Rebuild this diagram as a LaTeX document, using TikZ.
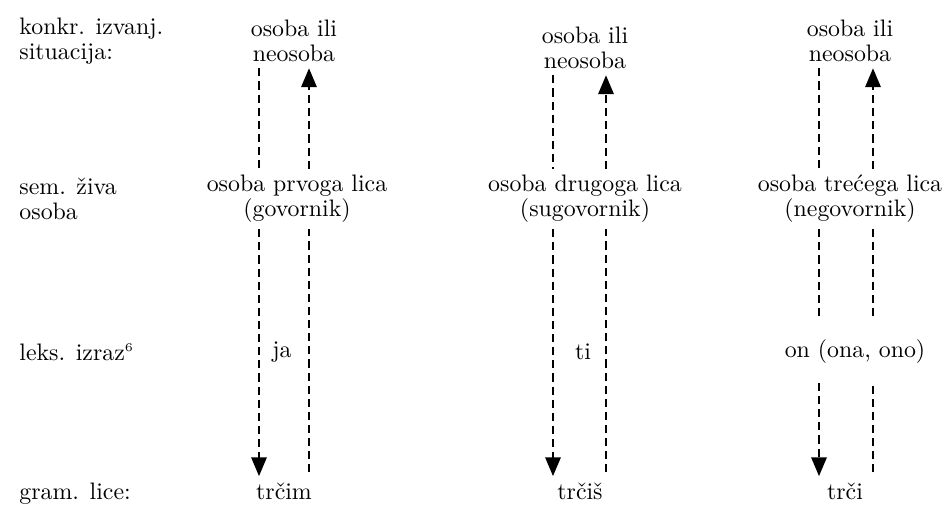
\documentclass[tikz,border=0pt]{standalone}
\usepackage{tikz}
\usetikzlibrary{arrows}

\begin{document}
\begin{tikzpicture}[line cap=butt,line join=round,>=triangle 45,x=0.014737cm,y=-0.014737cm,
  lbl/.style={inner sep=2.5pt,align=center,font=\fontsize{10}{10.5}\selectfont},
  lft/.style={lbl,align=left},
  dline/.style={line width=0.8pt,dash pattern=on 3.4pt off 2.1pt}]
\useasboundingbox (0,0) rectangle (950,505);

% left column
\node[lft,anchor=west] (konkr) at (13,41) {konkr. izvanj.\\situacija:};
\node[lft,anchor=west] (sem) at (13,199) {sem. \v{z}iva\\osoba};
\node[lft,anchor=west] (leks) at (13,352) {leks. izraz$^{\scriptscriptstyle 6}$};
\node[lft,anchor=base west] (gram) at (13,499) {gram. lice:};

% x of the lines
\coordinate (l1) at (259,0);
\coordinate (r1) at (309,0);
\coordinate (l2) at (553,0);
\coordinate (r2) at (606,0);
\coordinate (l3) at (819,0);
\coordinate (r3) at (873,0);

% first person
\node[lbl] (sit1) at (294,41) {osoba ili\\neosoba};
\node[lbl] (sem1) at (297,199) {osoba prvoga lica\\(govornik)};
\node[lbl] (ja) at (282,352) {ja};
\node[lbl,anchor=base] (trcim) at (284,499) {tr\v{c}im};
\draw[dline] (sit1.south -| l1) -- (sem1.north -| l1);
\draw[dline,->] (sem1.north -| r1) -- (sit1.south -| r1);
\draw[dline,->] (sem1.south -| l1) -- (trcim.north -| l1);
\draw[dline,shorten <=1.5pt] (trcim.north -| r1) -- (sem1.south -| r1);

% second person
\node[lbl] (sit2) at (585,48) {osoba ili\\neosoba};
\node[lbl] (sem2) at (585,199) {osoba drugoga lica\\(sugovornik)};
\node[lbl] (ti) at (583,352) {ti};
\node[lbl,anchor=base] (trcis) at (580,499) {tr\v{c}i\v{s}};
\draw[dline] (sit2.south -| l2) -- (sem2.north -| l2);
\draw[dline,->] (sem2.north -| r2) -- (sit2.south -| r2);
\draw[dline,->] (sem2.south -| l2) -- (trcis.north -| l2);
\draw[dline,shorten <=1.5pt] (trcis.north -| r2) -- (sem2.south -| r2);

% third person
\node[lbl] (sit3) at (850,41) {osoba ili\\neosoba};
\node[lbl] (sem3) at (850,199) {osoba tre\'cega lica\\(negovornik)};
\node[lbl,minimum height=0.9cm] (on) at (855,352) {on (ona, ono)};
\node[lbl,anchor=base] (trci) at (845,499) {tr\v{c}i};
\draw[dline] (sit3.south -| l3) -- (sem3.north -| l3);
\draw[dline,->] (sem3.north -| r3) -- (sit3.south -| r3);
\draw[dline] (sem3.south -| l3) -- (on.north -| l3);
\draw[dline] (sem3.south -| r3) -- (on.north -| r3);
\draw[dline,->] (on.south -| l3) -- (trci.north -| l3);
\draw[dline,shorten <=1.5pt] (trci.north -| r3) -- (on.south -| r3);

\end{tikzpicture}
\end{document}
